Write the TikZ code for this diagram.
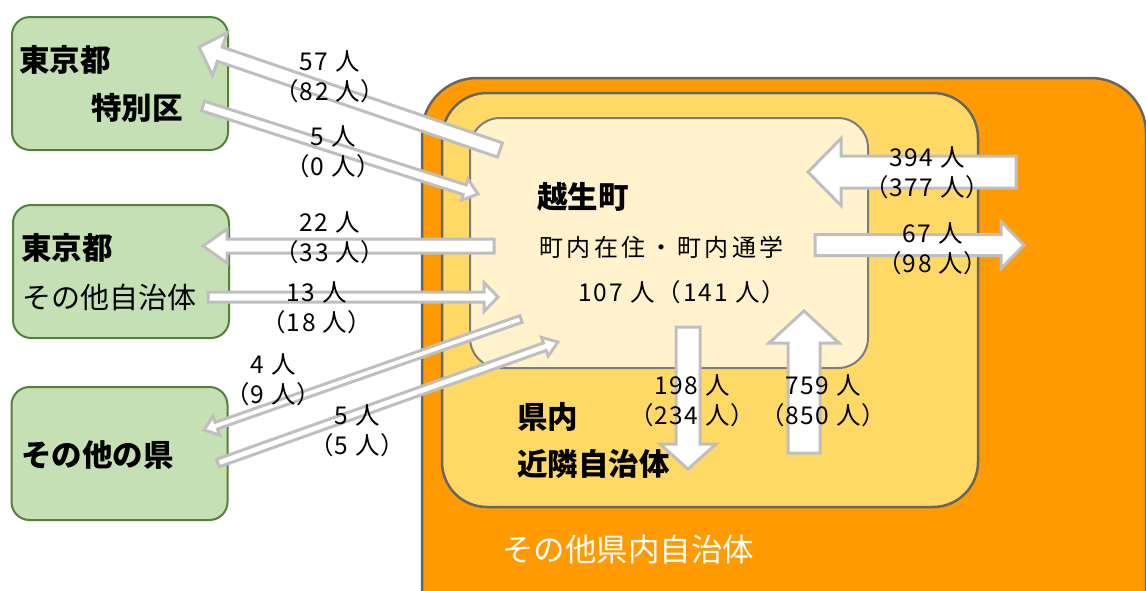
\documentclass[tikz,border=0pt]{standalone}
\usepackage{fontspec}
\setmainfont{Noto Sans CJK JP}
\newfontfamily\jp{Noto Sans CJK JP}
\newfontfamily\jpp[RawFeature=+palt,LetterSpace=6]{Noto Sans CJK JP}
\newfontfamily\jpw[LetterSpace=15]{Noto Sans CJK JP}
\newfontfamily\jpn[LetterSpace=8]{Noto Sans CJK JP}
\usetikzlibrary{calc}
\definecolor{orangefill}{HTML}{FF9A00}
\definecolor{yellowfill}{HTML}{FFD966}
\definecolor{lightfill}{HTML}{FFF2CC}
\definecolor{greenfill}{HTML}{C5E0B4}
\definecolor{greenline}{HTML}{548235}
\definecolor{boxline}{HTML}{666666}
\definecolor{arrline}{HTML}{BFBFBF}
\tikzset{
  areabox/.style={draw=boxline, line width=2.5pt, inner sep=0pt, outer sep=0pt},
  gbox/.style={draw=greenline, fill=greenfill, line width=2pt, rounded corners=18pt,
    minimum width=216pt, minimum height=133pt, inner sep=0pt, outer sep=0pt},
  blockarr/.style={draw=arrline, fill=white, line width=3pt, line join=miter},
  title/.style={font=\jp\bfseries\fontsize{30.5}{32}\selectfont, inner sep=0pt, anchor=west},
  numlab/.style={font=\jpp\fontsize{24.5}{30}\selectfont, align=center, inner sep=0pt},
}
% #1 tail, #2 tip, #3 half shaft width, #4 half head width, #5 head length
\newcommand\blockarrow[5]{%
  \draw[blockarr] let \p1=($(#2)-(#1)$), \n1={atan2(\y1,\x1)}, \n2={veclen(\x1,\y1)} in
   [shift={(#1)}, rotate=\n1]
   (0pt,-#3pt) -- ({\n2-#5pt},-#3pt) -- ({\n2-#5pt},-#4pt) -- (\n2,0pt)
   -- ({\n2-#5pt},#4pt) -- ({\n2-#5pt},#3pt) -- (0pt,#3pt) -- cycle;}
\begin{document}
\begin{tikzpicture}[x=1pt,y=-1pt]
\clip (0,0) rectangle (1146,590);
\fill[white] (0,0) rectangle (1146,590);
% areas
\node[areabox, fill=orangefill, rounded corners=55pt, minimum width=724pt, minimum height=572pt] (other) at (784,364) {};
\node[areabox, fill=yellowfill, rounded corners=45pt, minimum width=536pt, minimum height=414pt] (near) at (710,300) {};
\node[areabox, draw=boxline!85, line width=2pt, fill=lightfill, rounded corners=30pt, minimum width=398pt, minimum height=250pt] (ogose) at (669,243) {};
% green boxes
\node[gbox] (tokyo23) at (120,83.5) {};
\node[gbox] (tokyoetc) at (121,271.5) {};
\node[gbox] (otherpref) at (119.5,453.5) {};
% texts in boxes
\node[title] (t1a) at (19,60) {東京都};
\node[title] (t1b) at (91,108) {特別区};
\node[title] (t2a) at (21,248) {東京都};
\node[title, font=\jp\fontsize{29}{32}\selectfont] (t2b) at (22,297) {その他自治体};
\node[title] (t3) at (21,455) {その他の県};
\node[title] (to) at (537,197) {越生町};
\node[title, font=\jpw\fontsize{24}{28}\selectfont, anchor=west] (tr) at (539,247) {町内在住・町内通学};
\node[numlab, font=\jpn\fontsize{24.5}{28}\selectfont, anchor=west] (tn) at (578,292) {107 人（141 人）};
\node[title] (tk1) at (517,417) {県内};
\node[title] (tk2) at (517,464) {近隣自治体};
\node[title, font=\jp\fontsize{31.5}{32}\selectfont, text=white] (tot) at (502,550) {その他県内自治体};
% arrow end points
\coordinate (a1s) at (500,150); \coordinate (a1e) at (199,47);
\coordinate (a2s) at (203,106); \coordinate (a2e) at (478,194);
\coordinate (a3s) at (494,246); \coordinate (a3e) at (203,246);
\coordinate (a4s) at (208,297); \coordinate (a4e) at (498,297);
\coordinate (a5s) at (521,319); \coordinate (a5e) at (204,430);
\coordinate (a6s) at (218,463); \coordinate (a6e) at (558,342);
\coordinate (a7s) at (1016,172); \coordinate (a7e) at (808,172);
\coordinate (a8s) at (815,245); \coordinate (a8e) at (1024,245);
\coordinate (a9s) at (688,327); \coordinate (a9e) at (688,469);
\coordinate (a10s) at (804,453); \coordinate (a10e) at (804,311);
\blockarrow{a1s}{a1e}{7.5}{22.5}{22}
\blockarrow{a2s}{a2e}{5}{11}{14}
\blockarrow{a3s}{a3e}{7}{17}{24}
\blockarrow{a4s}{a4e}{5}{14.5}{14}
\blockarrow{a5s}{a5e}{3.5}{10}{13}
\blockarrow{a6s}{a6e}{4}{10}{14}
\blockarrow{a7s}{a7e}{16}{33.5}{33}
\blockarrow{a8s}{a8e}{10.5}{23.5}{23}
\blockarrow{a9s}{a9e}{12}{28}{25}
\blockarrow{a10s}{a10e}{16}{35}{32}
% labels
\node[numlab] (l1) at (330,77) {57 人\\（82 人）};
\node[numlab] (l2) at (333,152) {5 人\\（0 人）};
\node[numlab] (l3) at (330,238) {22 人\\（33 人）};
\node[numlab] (l4) at (317,308) {13 人\\（18 人）};
\node[numlab] (l5) at (273,380) {4 人\\（9 人）};
\node[numlab] (l6) at (357,431) {5 人\\（5 人）};
\node[numlab] (l7) at (927,173) {394 人\\（377 人）};
\node[numlab] (l8) at (933,249) {67 人\\（98 人）};
\node[numlab] (l9) at (692,401) {198 人\\（234 人）};
\node[numlab] (l10) at (823,401) {759 人\\（850 人）};
\end{tikzpicture}
\end{document}
